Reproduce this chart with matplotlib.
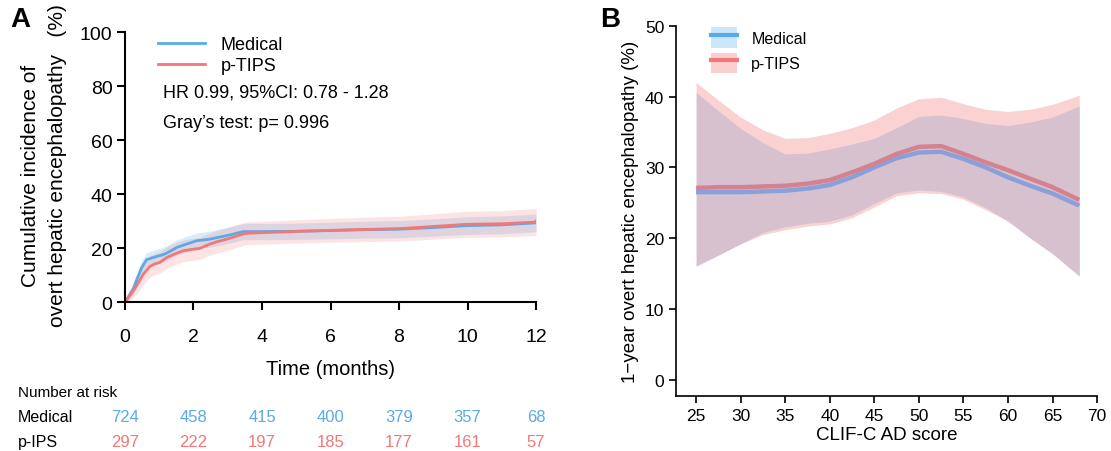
import numpy as np
import matplotlib
matplotlib.use("Agg")
import matplotlib.pyplot as plt
import matplotlib.transforms as mtransforms
from matplotlib.patches import Patch
from matplotlib.lines import Line2D

plt.rcParams['font.family'] = ['Liberation Sans', 'DejaVu Sans']

# panel A : cumulative incidence
med_t = [0, 0.1, 0.24, 0.35, 0.49, 0.63, 0.8, 0.93, 1.1, 1.22, 1.4, 1.51, 1.8, 2.09, 2.3,
         2.48, 2.7, 2.97, 3.2, 3.45, 4.0, 4.9, 6.08, 7.0, 8.03, 9.0, 9.98, 11.0, 11.97, 12.0]
med_y = [0, 2.0, 4.8, 8.5, 12.8, 15.7, 16.4, 16.9, 17.5, 18.1, 19.4, 20.2, 21.5, 22.7, 23.0,
         23.3, 23.9, 24.6, 25.3, 26.1, 26.1, 26.2, 26.5, 26.8, 27.0, 27.6, 28.3, 28.6, 29.3, 29.5]
med_ci = [0, 1.5, 2.2, 2.5, 2.6, 2.6, 2.6, 2.7, 2.7, 2.8, 2.8, 2.8, 2.9, 2.9, 2.9,
          3.0, 3.0, 3.0, 3.0, 3.0, 3.0, 3.0, 3.1, 3.1, 3.2, 3.2, 3.3, 3.3, 3.3, 3.3]

tips_t = [0, 0.15, 0.34, 0.45, 0.54, 0.73, 0.85, 1.02, 1.22, 1.45, 1.70, 1.95, 2.19, 2.48,
          2.7, 2.97, 3.2, 3.45, 3.6, 4.9, 6.08, 7.0, 8.03, 9.0, 9.98, 11.0, 11.97, 12.0]
tips_y = [0, 2.5, 6.0, 8.5, 10.4, 13.2, 14.0, 14.7, 16.5, 17.8, 19.0, 19.5, 19.9, 21.5,
          22.4, 23.3, 24.2, 25.2, 25.5, 26.1, 26.6, 26.9, 27.2, 28.0, 28.8, 29.0, 29.6, 30.0]
tips_ci = [0, 2.0, 3.0, 3.5, 3.8, 4.0, 4.0, 4.0, 4.0, 4.0, 4.0, 4.1, 4.1, 4.1,
           4.2, 4.2, 4.2, 4.2, 4.2, 4.3, 4.4, 4.5, 4.6, 4.7, 4.8, 4.9, 5.0, 5.0]

risk_times = [0, 2, 4, 6, 8, 10, 12]
risk_med = [724, 458, 415, 400, 379, 357, 68]
risk_tips = [297, 222, 197, 185, 177, 161, 57]

# panel B : 1-year OHE vs CLIF-C AD score
score = [25, 27.5, 30, 32.5, 35, 37.5, 40, 42.5, 45, 47.5, 50, 52.5, 55, 57.5, 60, 62.5, 65, 68]
b_med = [26.5, 26.5, 26.5, 26.6, 26.7, 27.0, 27.5, 28.6, 30.0, 31.3, 32.1, 32.2, 31.2, 30.0, 28.6, 27.4, 26.3, 24.6]
b_med_hi = [40.6, 38.0, 35.5, 33.5, 31.9, 32.0, 32.6, 33.3, 34.1, 35.6, 37.2, 37.4, 36.9, 36.2, 35.9, 36.4, 37.1, 38.7]
b_med_lo = [16.0, 17.6, 19.2, 20.8, 21.6, 22.1, 22.4, 23.3, 24.9, 26.4, 26.8, 26.6, 25.8, 24.3, 22.4, 20.0, 17.8, 14.6]
b_tips = [27.1, 27.2, 27.2, 27.3, 27.4, 27.7, 28.2, 29.3, 30.5, 31.9, 32.9, 33.0, 31.9, 30.7, 29.6, 28.4, 27.2, 25.4]
b_tips_hi = [42.0, 39.5, 37.1, 35.3, 34.1, 34.2, 34.8, 35.6, 36.7, 38.4, 39.7, 39.9, 39.0, 38.2, 37.9, 38.2, 38.9, 40.2]
b_tips_lo = [16.1, 17.6, 19.2, 20.5, 21.2, 21.7, 22.0, 22.9, 24.4, 26.0, 26.4, 26.3, 25.5, 24.0, 22.4, 20.0, 17.8, 14.7]

blue = '#5aaae8'
red = '#f07878'

fig = plt.figure(figsize=(11.11, 4.52), dpi=100)

# ---------- panel A
axA = fig.add_axes([0.1125, 0.3296, 0.370, 0.597])
mt = np.array(med_t); my = np.array(med_y); mc = np.array(med_ci)
tt = np.array(tips_t); ty = np.array(tips_y); tc = np.array(tips_ci)
axA.fill_between(mt, my - mc, my + mc, color=blue, alpha=0.22, lw=0)
axA.fill_between(tt, ty - tc, ty + tc, color=red, alpha=0.2, lw=0)
axA.plot(mt, my, color=blue, lw=2, label='Medical')
axA.plot(tt, ty, color=red, lw=2, label='p-TIPS')
axA.set_xlim(0, 12)
axA.set_ylim(0, 100)
axA.set_xticks(risk_times)
axA.set_yticks([0, 20, 40, 60, 80, 100])
for s in ['top', 'right']:
    axA.spines[s].set_visible(False)
for s in ['left', 'bottom']:
    axA.spines[s].set_linewidth(1.5)
axA.tick_params(labelsize=14, width=1.5, length=6, pad=13)
axA.tick_params(axis='y', pad=3)
axA.set_xlabel('Time (months)', fontsize=14.5, labelpad=10)
# two-line y label, placed as two rotated texts
fig.text(31 / 1111, 1 - 176 / 452, 'Cumulative incidence of', rotation=90,
         ha='center', va='center', fontsize=15)
fig.text(58 / 1111, 1 - 166 / 452, 'overt hepatic encephalopathy   (%)', rotation=90,
         ha='center', va='center', fontsize=15)
axA.legend(loc='upper left', bbox_to_anchor=(0.04, 1.045), frameon=False, fontsize=13,
           handlelength=2.6, handletextpad=0.9, labelspacing=0.2)
axA.text(0.093, 0.777, 'HR 0.99, 95%CI: 0.78 - 1.28', transform=axA.transAxes, fontsize=13, va='center')
axA.text(0.093, 0.666, "Gray\u2019s test: p= 0.996", transform=axA.transAxes, fontsize=13, va='center')

trans = mtransforms.blended_transform_factory(axA.transData, fig.transFigure)
fig.text(18 / 1111, 1 - 393 / 452, 'Number at risk', fontsize=11, va='center')
fig.text(18 / 1111, 1 - 418 / 452, 'Medical', fontsize=11.5, va='center')
fig.text(18 / 1111, 1 - 443 / 452, 'p-IPS', fontsize=11.5, va='center')
for t, a, b in zip(risk_times, risk_med, risk_tips):
    axA.text(t, 1 - 418 / 452, str(a), transform=trans, ha='center', va='center', fontsize=12, color=blue)
    axA.text(t, 1 - 443 / 452, str(b), transform=trans, ha='center', va='center', fontsize=12, color=red)

fig.text(10 / 1111, 1 - 20 / 452, 'A', fontsize=20, fontweight='bold', va='center')
fig.text(600 / 1111, 1 - 20 / 452, 'B', fontsize=20, fontweight='bold', va='center')

# ---------- panel B
axB = fig.add_axes([0.6085, 0.1217, 0.379, 0.819])
axB.fill_between(score, b_med_lo, b_med_hi, color='#5aaaf0', alpha=0.3, lw=0)
axB.fill_between(score, b_tips_lo, b_tips_hi, color='#f07878', alpha=0.33, lw=0)
axB.plot(score, b_med, color='#8aa0da', lw=3.2, solid_capstyle='butt')
axB.plot(score, b_tips, color='#d4828f', lw=3.2, solid_capstyle='butt')
axB.set_xlim(22.75, 70)
axB.set_ylim(-2.3, 50)
axB.set_xticks([25, 30, 35, 40, 45, 50, 55, 60, 65, 70])
axB.set_yticks([0, 10, 20, 30, 40, 50])
for s in ['top', 'right']:
    axB.spines[s].set_visible(False)
for s in ['left', 'bottom']:
    axB.spines[s].set_linewidth(1.2)
axB.tick_params(labelsize=12.5, width=1.2, length=5)
axB.set_xlabel('CLIF-C AD score', fontsize=13.5, labelpad=2)
axB.set_ylabel('1\u2212year overt hepatic encephalopathy (%)', fontsize=13.5, labelpad=4)
h1 = (Patch(facecolor='#cce6fb', edgecolor='none'), Line2D([], [], color=blue, lw=3))
h2 = (Patch(facecolor='#f9cfcf', edgecolor='none'), Line2D([], [], color=red, lw=3))
axB.legend([h1, h2], ['Medical', 'p-TIPS'], loc='upper left', bbox_to_anchor=(0.05, 1.035),
           frameon=False, fontsize=11.5, handlelength=1.6, handleheight=1.6,
           handletextpad=0.9, labelspacing=0.3)

fig.savefig('out.png', dpi=100)
